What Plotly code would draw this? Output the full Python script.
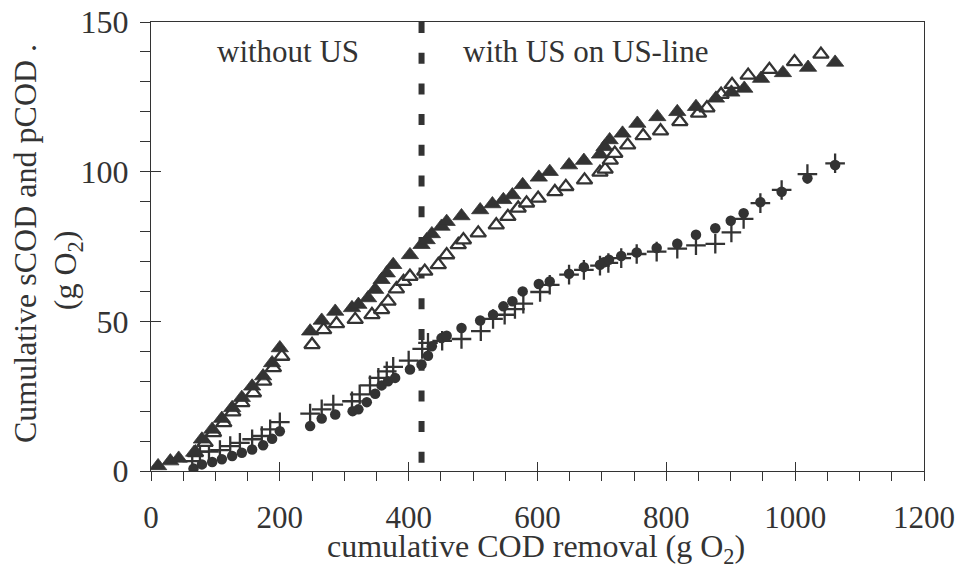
import plotly.graph_objects as go

# ---- data ----
filled_tri_x = [11, 30, 43, 67, 79, 95, 110, 126, 141, 157, 174, 188, 200, 247, 265, 286, 312, 322, 337, 348,
                358, 366, 376, 402, 420, 428, 436, 451, 459, 482, 511, 530, 547, 561, 577, 602, 619, 649, 672,
                697, 704, 712, 732, 755, 786, 817, 846, 877, 901, 921, 947, 981, 1020, 1062]
filled_tri_y = [1.7, 3.3, 4.2, 6.2, 10.6, 13.9, 17.5, 21.1, 24.5, 28.3, 31.7, 36.1, 41.1, 46.7, 50.3, 53.3, 54.5,
                55.6, 57.8, 60.6, 63.9, 66.1, 68.9, 72.2, 75.6, 77.2, 79.2, 81.7, 83.3, 85.2, 87.2, 89.2, 90.6,
                92.2, 95.6, 98.1, 100.0, 102.2, 103.7, 105.8, 108.3, 110.6, 112.8, 116.1, 118.3, 120.0, 121.7,
                124.5, 126.5, 127.8, 131.1, 133.0, 134.8, 136.5]

open_tri_x = [69, 84, 97, 113, 127, 141, 159, 175, 190, 203, 250, 268, 288, 317, 343, 358, 368, 381,
              392, 402, 425, 446, 459, 477, 485, 508, 536, 554, 570, 583, 601, 627, 644, 673, 697, 705, 713, 720,
              740, 764, 791, 821, 850, 863, 885, 902, 927, 960, 999, 1040]
open_tri_y = [6.1, 9.5, 12.8, 16.1, 19.7, 22.8, 26.1, 30.0, 34.5, 38.3, 42.2, 47.2, 49.2, 50.6,
              52.2, 53.9, 56.7, 60.8, 63.3, 65.0, 66.7, 68.9, 72.2, 75.6, 77.2, 79.5, 82.2, 85.0, 87.8, 89.5,
              91.1, 93.3, 95.0, 97.2, 99.8, 100.8, 103.8, 106.1, 108.9, 112.0, 113.6, 116.7, 119.5, 121.3,
              125.8, 129.1, 132.2, 134.1, 136.7, 139.2]

circle_x = [66, 79, 95, 110, 126, 141, 157, 174, 188, 200, 247, 265, 286, 313, 322, 335, 348, 358, 368, 379, 402,
            420, 430, 436, 451, 459, 482, 511, 531, 547, 561, 577, 602, 619, 649, 672, 697, 703, 711, 730, 754,
            785, 817, 846, 876, 900, 920, 946, 979, 1019, 1062]
circle_y = [0.8, 2.2, 3.0, 3.9, 5.0, 6.1, 7.2, 8.6, 10.8, 13.3, 15.0, 17.5, 18.9, 20.0, 20.6, 23.0, 25.8, 28.6,
            30.0, 31.1, 33.9, 35.6, 38.5, 41.7, 44.4, 45.2, 47.8, 50.3, 52.2, 55.0, 56.7, 60.0, 62.5, 63.3, 65.9,
            68.1, 68.9, 69.7, 70.6, 71.8, 73.0, 74.5, 75.9, 78.9, 81.1, 83.6, 86.1, 89.8, 93.3, 97.8, 102.2]

cross_x = [64, 76, 90, 107, 123, 138, 157, 172, 185, 200, 247, 265, 283, 312, 324, 340, 353, 366, 376, 400, 421,
           430, 452, 482, 512, 531, 549, 565, 578, 604, 619, 649, 672, 697, 710, 730, 754, 785, 817, 846, 876,
           901, 920, 946, 979, 1019, 1062]
cross_y = [3.3, 6.5, 6.5, 7.0, 8.3, 9.4, 10.6, 11.7, 13.9, 16.3, 19.2, 20.6, 22.2, 23.3, 25.6, 28.6, 31.1, 33.3,
           34.8, 36.9, 40.8, 42.8, 43.5, 44.1, 46.7, 50.8, 52.2, 54.1, 55.9, 59.8, 62.2, 65.6, 67.2, 68.6, 69.5,
           71.1, 72.5, 73.3, 74.3, 75.4, 75.9, 79.7, 84.2, 89.5, 93.9, 99.2, 102.8]

divider_x = [420, 420]
divider_y = [150, 0]

x_range = [0, 1200]
y_range = [0, 150]

# ---- styling ----
INK = "#333333"
FONT = "Liberation Serif"
FS = 31

fig = go.Figure()

fig.add_trace(go.Scatter(x=divider_x, y=divider_y, mode="lines",
                         line=dict(color=INK, width=6, dash="11px,19.7px"),
                         hoverinfo="skip", showlegend=False))
fig.add_trace(go.Scatter(x=cross_x, y=cross_y, mode="markers", name="cross",
                         marker=dict(symbol="cross-thin-open", size=14, color=INK,
                                     line=dict(color=INK, width=2.3)), showlegend=False))
fig.add_trace(go.Scatter(x=circle_x, y=circle_y, mode="markers", name="circle",
                         marker=dict(symbol="circle", size=10.5, color=INK, line=dict(width=0)),
                         showlegend=False))
fig.add_trace(go.Scatter(x=open_tri_x, y=open_tri_y, mode="markers", name="open triangle",
                         marker=dict(symbol="triangle-up", size=13.5, color="white",
                                     line=dict(color=INK, width=2.3)),
                         showlegend=False))
fig.add_trace(go.Scatter(x=filled_tri_x, y=filled_tri_y, mode="markers", name="filled triangle",
                         marker=dict(symbol="triangle-up", size=15, color=INK, line=dict(color=INK, width=0.8)),
                         showlegend=False))
# helper trace so the overlay axes (inward half of the major ticks) are drawn
fig.add_trace(go.Scatter(x=[None], y=[None], xaxis="x2", yaxis="y2", mode="markers",
                         showlegend=False, hoverinfo="skip"))

fig.update_layout(
    width=962, height=568,
    margin=dict(l=151, r=38, t=22, b=97, autoexpand=False),
    paper_bgcolor="white", plot_bgcolor="white",
    font=dict(family=FONT, size=FS, color=INK),
    showlegend=False,
    xaxis=dict(range=x_range, showline=True, linecolor=INK, linewidth=1.3, mirror=True, automargin=False,
               ticks="outside", ticklen=9, tickwidth=1.3, tickcolor=INK, tick0=0, dtick=200,
               minor=dict(dtick=50, ticks="outside", ticklen=9, tickwidth=1.3, tickcolor=INK, showgrid=False),
               showgrid=False, zeroline=False, ticklabelstandoff=10,
               tickfont=dict(family=FONT, size=FS, color=INK)),
    yaxis=dict(range=y_range, showline=True, linecolor=INK, linewidth=1.3, mirror=True, automargin=False,
               ticks="outside", ticklen=10, tickwidth=1.3, tickcolor=INK, tick0=0, dtick=50,
               minor=dict(dtick=10, ticks="outside", ticklen=10, tickwidth=1.3, tickcolor=INK, showgrid=False),
               showgrid=False, zeroline=False, ticklabelstandoff=5,
               tickfont=dict(family=FONT, size=32, color=INK)),
    xaxis2=dict(range=x_range, overlaying="x", anchor="y2", side="bottom", ticks="inside", ticklen=9,
                tickwidth=1.3, tickcolor=INK, tick0=0, dtick=200, showticklabels=False, showline=False,
                showgrid=False, zeroline=False, automargin=False),
    yaxis2=dict(range=y_range, overlaying="y", anchor="x2", side="left", ticks="inside", ticklen=10,
                tickwidth=1.3, tickcolor=INK, tick0=0, dtick=50, showticklabels=False, showline=False,
                showgrid=False, zeroline=False, automargin=False),
    annotations=[
        dict(text="without US", x=213, y=140, xref="x", yref="y", showarrow=False,
             xanchor="center", yanchor="middle", font=dict(family=FONT, size=FS, color=INK)),
        dict(text="with US on US-line", x=675, y=140, xref="x", yref="y", showarrow=False,
             xanchor="center", yanchor="middle", font=dict(family=FONT, size=FS, color=INK)),
        dict(text="cumulative COD removal (g O<sub>2</sub>)", x=0.4987, y=-0.1735, xref="paper", yref="paper",
             showarrow=False, xanchor="center", yanchor="middle", font=dict(family=FONT, size=32, color=INK)),
        dict(text="Cumulative sCOD and pCOD .", x=-0.163, y=0.5056, xref="paper", yref="paper",
             textangle=-90, showarrow=False, xanchor="center", yanchor="middle",
             font=dict(family=FONT, size=32, color=INK)),
        dict(text="(g O<sub>2</sub>)", x=-0.107, y=0.4477, xref="paper", yref="paper",
             textangle=-90, showarrow=False, xanchor="center", yanchor="middle",
             font=dict(family=FONT, size=32, color=INK)),
    ],
)

fig.write_html("out.html", config={"displayModeBar": False},
               post_script="document.body.style.margin='0';document.body.style.overflow='hidden';")
